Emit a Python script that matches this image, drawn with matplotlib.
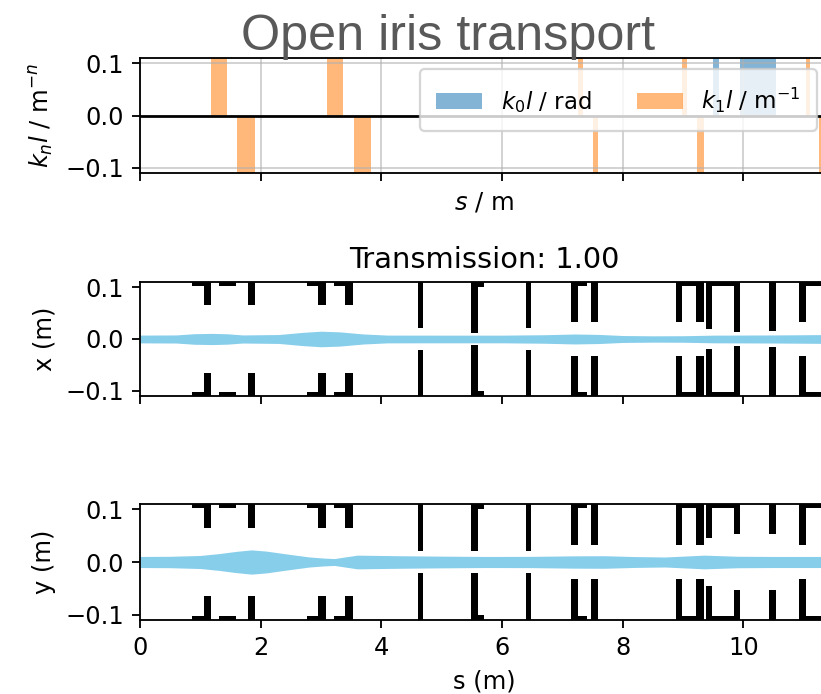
import matplotlib
matplotlib.use("Agg")
import matplotlib.pyplot as plt

# ── magnets (top panel) ───────────────────────────────────────────
# quadrupoles: start, end (m), integrated strength k1*l (clipped in plot)
quad_s0 = [1.18, 1.60, 3.10, 3.55, 7.26, 7.50, 8.98, 9.23, 11.03, 11.25]
quad_s1 = [1.45, 1.90, 3.36, 3.83, 7.34, 7.59, 9.07, 9.34, 11.11, 11.34]
quad_k1l = [2.1, -2.4, 2.3, -2.2, 1.5, -1.6, 1.8, -1.9, 1.4, -1.5]
# dipoles: start, end (m), bending angle k0*l
dip_s0 = [9.49, 9.95]
dip_s1 = [9.59, 10.54]
dip_k0l = [0.3, 0.6]

# ── apertures: start, end (m), half aperture in x and y (m) ────────
ap_s0 = [0.867, 1.061, 1.315, 1.796, 2.775, 2.957, 3.217, 3.400,
         4.599, 5.489, 5.594, 6.396, 7.148, 7.252, 7.479,
         8.889, 8.983, 9.221, 9.386, 9.480, 9.839, 10.420,
         10.917, 11.028]
ap_s1 = [1.061, 1.177, 1.592, 1.912, 2.957, 3.085, 3.400, 3.527,
         4.688, 5.594, 5.700, 6.479, 7.252, 7.407, 7.584,
         8.983, 9.221, 9.342, 9.480, 9.839, 9.939, 10.540,
         11.028, 11.500]
ap_x = [0.102, 0.065, 0.102, 0.065, 0.102, 0.065, 0.102, 0.065,
        0.021, 0.011, 0.100, 0.021, 0.032, 0.102, 0.032,
        0.032, 0.102, 0.032, 0.020, 0.102, 0.014, 0.016,
        0.032, 0.102]
ap_y = [0.102, 0.065, 0.102, 0.065, 0.102, 0.065, 0.102, 0.065,
        0.021, 0.021, 0.100, 0.021, 0.033, 0.102, 0.033,
        0.033, 0.102, 0.033, 0.045, 0.102, 0.053, 0.053,
        0.033, 0.102]

# ── beam envelopes (half width, m) ─────────────────────────────────
env_x_s = [0, 0.6, 0.9, 1.2, 1.45, 1.7, 2.3, 2.7, 3.0, 3.3, 3.7, 4.1, 5.0,
           6.0, 6.7, 7.2, 7.6, 8.0, 8.5, 9.0, 9.5, 10.0, 10.5, 11.0, 11.5]
env_x = [0.0075, 0.0078, 0.0102, 0.0108, 0.0100, 0.0078, 0.0086, 0.0128,
         0.0150, 0.0138, 0.0097, 0.0075, 0.0074, 0.0074, 0.0082, 0.0096,
         0.0088, 0.0067, 0.0061, 0.0063, 0.0074, 0.0076, 0.0078, 0.0082,
         0.0086]
env_y_s = [0, 0.5, 1.0, 1.3, 1.6, 1.85, 2.1, 2.4, 2.8, 3.05, 3.22, 3.4, 3.6,
           4.3, 5.0, 5.75, 6.5, 7.2, 7.7, 8.2, 8.7, 9.35, 9.9, 10.5, 11.0, 11.5]
env_y = [0.0105, 0.0108, 0.0124, 0.0158, 0.0202, 0.0230, 0.0206, 0.0157,
         0.0096, 0.0074, 0.0065, 0.0096, 0.0130, 0.0119, 0.0111, 0.0105,
         0.0107, 0.0117, 0.0119, 0.0103, 0.0095, 0.0130, 0.0109, 0.0105,
         0.0105, 0.0105]

transmission = 1.00
S_MAX = 11.4
YLIM = 0.11
BEAM = "skyblue"

plt.rcParams["font.size"] = 10.5

fig = plt.figure(figsize=(821 / 165, 694 / 165), dpi=165)
ax_k = fig.add_axes([0.1705, 0.7507, 0.838, 0.1657])
ax_x = fig.add_axes([0.1705, 0.4294, 0.838, 0.1643])
ax_y = fig.add_axes([0.1705, 0.1066, 0.838, 0.1672])

# ── top: magnet strengths ─────────────────────────────────────────
w_d = [b - a for a, b in zip(dip_s0, dip_s1)]
w_q = [b - a for a, b in zip(quad_s0, quad_s1)]
ax_k.bar(dip_s0, dip_k0l, width=w_d, align="edge", color="tab:blue",
         alpha=0.55, label=r"$k_0l$ / rad")
ax_k.bar(quad_s0, quad_k1l, width=w_q, align="edge", color="tab:orange",
         alpha=0.55, label=r"$k_1l$ / m$^{-1}$")
ax_k.axhline(0, color="black", lw=1.2)
ax_k.set_ylim(-YLIM, YLIM)
ax_k.set_xlim(0, S_MAX)
ax_k.set_yticks([-0.1, 0.0, 0.1])
ax_k.grid(True, alpha=0.6)
ax_k.tick_params(labelbottom=False)
ax_k.set_xlabel(r"$s$ / m")
ax_k.set_ylabel(r"$k_nl$ / m$^{-n}$")
ax_k.legend(loc="upper right", ncol=2, fontsize=10, borderpad=0.7)

# ── apertures + envelopes ─────────────────────────────────────────
w_ap = [b - a for a, b in zip(ap_s0, ap_s1)]
for ax, env_s, env, ap, lab in [(ax_x, env_x_s, env_x, ap_x, "x (m)"),
                                (ax_y, env_y_s, env_y, ap_y, "y (m)")]:
    ax.fill_between(env_s, [-v for v in env], env, color=BEAM, lw=0)
    ax.bar(ap_s0, [1 - a for a in ap], width=w_ap, bottom=ap,
           align="edge", color="black", lw=0)
    ax.bar(ap_s0, [1 - a for a in ap], width=w_ap, bottom=[-1] * len(ap),
           align="edge", color="black", lw=0)
    ax.set_ylim(-YLIM, YLIM)
    ax.set_xlim(0, S_MAX)
    ax.set_yticks([-0.1, 0.0, 0.1])
    ax.set_ylabel(lab)

ax_x.tick_params(labelbottom=False)
ax_x.set_title(f"Transmission: {transmission:.2f}")
ax_y.set_xlabel("s (m)")

fig.text(0.5463, 0.928, "Open iris transport", ha="center", va="baseline",
         fontsize=22, color="#595959", family="Liberation Sans")

fig.savefig("out.png", dpi=165)
